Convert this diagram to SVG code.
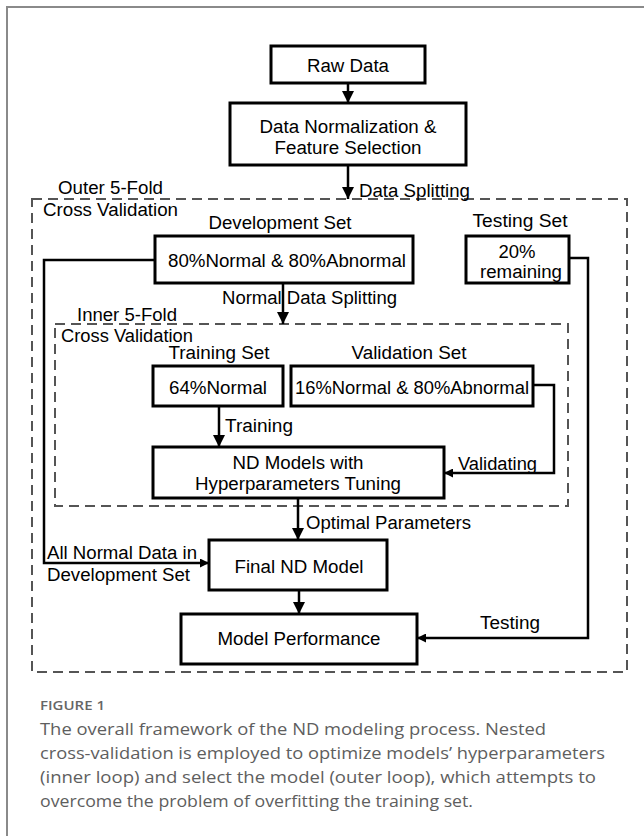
<svg xmlns="http://www.w3.org/2000/svg" width="644" height="836" viewBox="0 0 644 836">
<defs>
<marker id="ah" markerUnits="userSpaceOnUse" markerWidth="12" markerHeight="12" refX="12" refY="6" orient="auto">
<path d="M0,0 L12,6 L0,12 z" fill="#000"/>
</marker>
<marker id="ahs" markerUnits="userSpaceOnUse" markerWidth="9" markerHeight="9" refX="9" refY="4.5" orient="auto">
<path d="M0,0 L9,4.5 L0,9 z" fill="#000"/>
</marker>
<style>
.box{fill:#fff;stroke:#000;stroke-width:3}
.dash{fill:none;stroke:#555;stroke-width:2;stroke-dasharray:10 6}
.ln{fill:none;stroke:#000;stroke-width:2.5}
.t{font-family:"Liberation Sans",Arial,sans-serif;font-size:18px;fill:#000}
.m{text-anchor:middle}
.cap{font-family:"Open Sans","Noto Sans",sans-serif;font-size:16px;fill:#5e5e5e}
.fig{font-family:"Open Sans","Noto Sans",sans-serif;font-size:13px;fill:#666;font-weight:600}
</style>
</defs>
<rect width="644" height="836" fill="#fff"/>
<path d="M7,836 V7 H644" fill="none" stroke="#8a8a8a" stroke-width="2"/>

<g id="outer-cv">
<rect class="dash" x="32" y="199" width="595" height="473"/>
<text class="t" x="58" y="194" textLength="105" lengthAdjust="spacingAndGlyphs">Outer 5-Fold</text>
<text class="t" x="43" y="216" textLength="135" lengthAdjust="spacingAndGlyphs">Cross Validation</text>
</g>
<g id="inner-cv">
<rect class="dash" x="55" y="324" width="513" height="182"/>
<text class="t" x="77" y="321" textLength="100" lengthAdjust="spacingAndGlyphs">Inner 5-Fold</text>
<text class="t" x="61" y="342" textLength="132" lengthAdjust="spacingAndGlyphs">Cross Validation</text>
</g>

<g id="connectors">
<line class="ln" x1="348" y1="83" x2="348" y2="103" marker-end="url(#ah)"/>
<line class="ln" x1="348" y1="165" x2="348" y2="199" marker-end="url(#ah)"/>
<line class="ln" x1="283" y1="283" x2="283" y2="324" marker-end="url(#ah)"/>
<line class="ln" x1="219" y1="406" x2="219" y2="447" marker-end="url(#ah)"/>
<polyline class="ln" points="533,385 554,385 554,473 444,473" marker-end="url(#ahs)"/>
<line class="ln" x1="298" y1="498" x2="298" y2="540" marker-end="url(#ah)"/>
<polyline class="ln" points="155,260 44,260 44,563 209,563" marker-end="url(#ahs)"/>
<line class="ln" x1="299" y1="590" x2="299" y2="614" marker-end="url(#ah)"/>
<polyline class="ln" points="569,258 588,258 588,638 417,638" marker-end="url(#ahs)"/>
<text class="t" x="359" y="197" textLength="111" lengthAdjust="spacingAndGlyphs">Data Splitting</text>
<text class="t" x="222" y="304" textLength="175" lengthAdjust="spacingAndGlyphs">Normal Data Splitting</text>
<text class="t" x="225" y="432" textLength="68" lengthAdjust="spacingAndGlyphs">Training</text>
<text class="t" x="458" y="470" textLength="79" lengthAdjust="spacingAndGlyphs">Validating</text>
<text class="t" x="306" y="529" textLength="165" lengthAdjust="spacingAndGlyphs">Optimal Parameters</text>
<text class="t" x="47" y="559" textLength="150" lengthAdjust="spacingAndGlyphs">All Normal Data in</text>
<text class="t" x="47" y="581" textLength="143" lengthAdjust="spacingAndGlyphs">Development Set</text>
<text class="t" x="480" y="629" textLength="60" lengthAdjust="spacingAndGlyphs">Testing</text>
</g>

<g id="raw-data">
<rect class="box" x="271" y="46" width="154" height="37"/>
<text class="t m" x="348" y="72" textLength="82" lengthAdjust="spacingAndGlyphs">Raw Data</text>
</g>
<g id="normalization">
<rect class="box" x="230" y="103" width="236" height="62"/>
<text class="t m" x="348" y="133" textLength="177" lengthAdjust="spacingAndGlyphs">Data Normalization &amp;</text>
<text class="t m" x="348" y="154" textLength="147" lengthAdjust="spacingAndGlyphs">Feature Selection</text>
</g>
<g id="development-set">
<text class="t m" x="280" y="229" textLength="143" lengthAdjust="spacingAndGlyphs">Development Set</text>
<rect class="box" x="155" y="236" width="258" height="47"/>
<text class="t m" x="287" y="267" textLength="238" lengthAdjust="spacingAndGlyphs">80%Normal &amp; 80%Abnormal</text>
</g>
<g id="testing-set">
<text class="t m" x="520" y="227" textLength="95" lengthAdjust="spacingAndGlyphs">Testing Set</text>
<rect class="box" x="466" y="236" width="103" height="47"/>
<text class="t m" x="517" y="258" textLength="37" lengthAdjust="spacingAndGlyphs">20%</text>
<text class="t m" x="521" y="278" textLength="82" lengthAdjust="spacingAndGlyphs">remaining</text>
</g>
<g id="training-set">
<text class="t m" x="219" y="359" textLength="101" lengthAdjust="spacingAndGlyphs">Training Set</text>
<rect class="box" x="153" y="366" width="130" height="40"/>
<text class="t m" x="218" y="394" textLength="98" lengthAdjust="spacingAndGlyphs">64%Normal</text>
</g>
<g id="validation-set">
<text class="t m" x="409" y="359" textLength="115" lengthAdjust="spacingAndGlyphs">Validation Set</text>
<rect class="box" x="291" y="366" width="242" height="40"/>
<text class="t m" x="412" y="394" textLength="234" lengthAdjust="spacingAndGlyphs">16%Normal &amp; 80%Abnormal</text>
</g>
<g id="nd-models">
<rect class="box" x="153" y="447" width="291" height="51"/>
<text class="t m" x="298" y="469" textLength="131" lengthAdjust="spacingAndGlyphs">ND Models with</text>
<text class="t m" x="298" y="490" textLength="206" lengthAdjust="spacingAndGlyphs">Hyperparameters Tuning</text>
</g>
<g id="final-model">
<rect class="box" x="209" y="540" width="178" height="50"/>
<text class="t m" x="299" y="573" textLength="129" lengthAdjust="spacingAndGlyphs">Final ND Model</text>
</g>
<g id="model-performance">
<rect class="box" x="181" y="614" width="236" height="50"/>
<text class="t m" x="299" y="645" textLength="163" lengthAdjust="spacingAndGlyphs">Model Performance</text>
</g>

<g id="caption">
<text class="fig" x="40" y="710" textLength="65" lengthAdjust="spacingAndGlyphs">FIGURE 1</text>
<text class="cap" x="40" y="735" textLength="506" lengthAdjust="spacingAndGlyphs">The overall framework of the ND modeling process. Nested</text>
<text class="cap" x="40" y="759" textLength="565" lengthAdjust="spacingAndGlyphs">cross-validation is employed to optimize models’ hyperparameters</text>
<text class="cap" x="40" y="783" textLength="556" lengthAdjust="spacingAndGlyphs">(inner loop) and select the model (outer loop), which attempts to</text>
<text class="cap" x="40" y="807" textLength="433" lengthAdjust="spacingAndGlyphs">overcome the problem of overfitting the training set.</text>
</g>
</svg>
